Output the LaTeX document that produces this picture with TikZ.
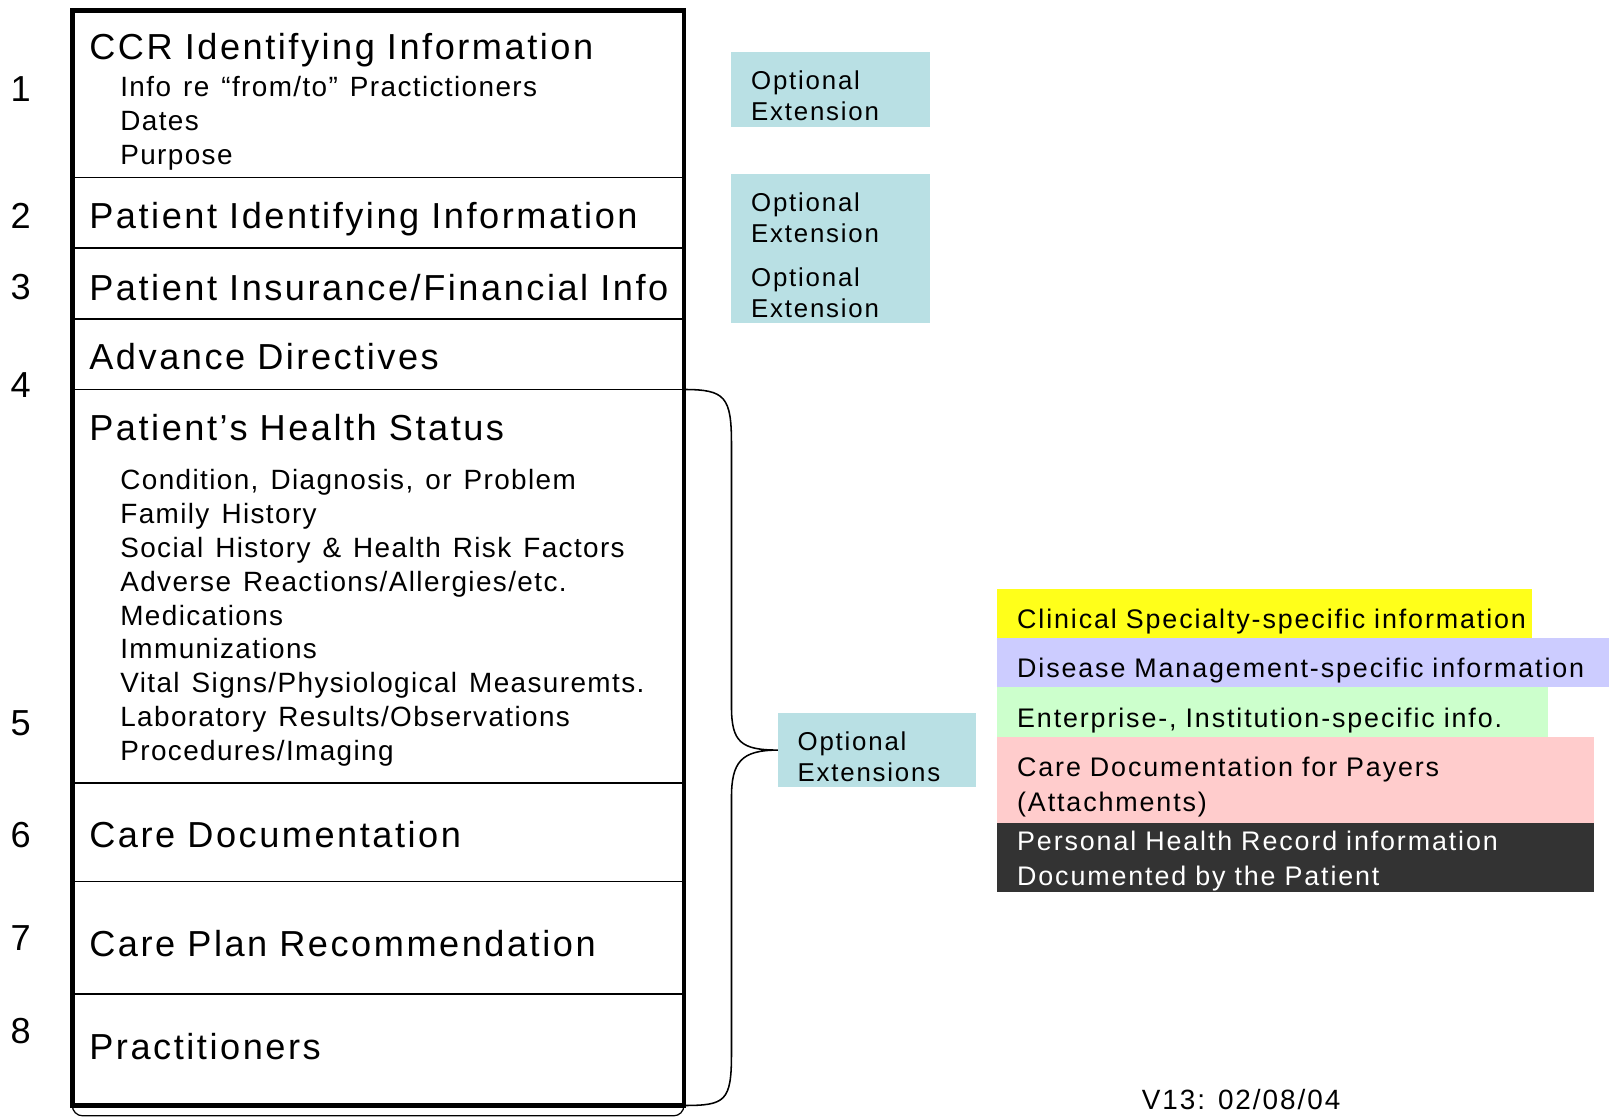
\documentclass[tikz,border=0pt]{standalone}
\usepackage{fontspec}
\setmainfont{Liberation Sans}[LetterSpace=7,Ligatures=NoCommon]
\usetikzlibrary{positioning}
\definecolor{optteal}{RGB}{185,224,228}
\definecolor{clinyellow}{RGB}{255,255,26}
\definecolor{dislav}{RGB}{204,204,255}
\definecolor{entgreen}{RGB}{204,255,204}
\definecolor{paypink}{RGB}{255,204,204}
\definecolor{phrdark}{RGB}{51,51,51}
\newcommand\subfont{\fontsize{27}{32.7}\selectfont\addfontfeature{LetterSpace=5}\leftskip=30pt\parindent=0pt}

\begin{document}
\begin{tikzpicture}[x=1pt,y=-1pt]
   \tikzstyle{lift}=[execute at begin node={\rule{0pt}{#1}}]
   \tikzstyle{sect}=[draw, line width=1.5pt, rectangle, outer sep=0pt, text width=559pt, inner xsep=16.5pt, inner ysep=0pt, align=left,
       font=\fontsize{35}{42}\selectfont]
   \tikzstyle{num}=[font=\fontsize{35}{42}\selectfont]
   \tikzstyle{opt}=[fill=optteal, anchor=north west, outer sep=0pt, text width=154pt, inner xsep=19pt, inner ysep=0pt, minimum height=73pt, align=left,
       font=\fontsize{25}{30}\selectfont, lift=31pt]
   \tikzstyle{ext}=[anchor=north west, outer sep=0pt, inner xsep=19.5pt, inner ysep=0pt, align=left,
       font=\fontsize{26}{34}\selectfont\addfontfeature{LetterSpace=7}]

\useasboundingbox (0,0) rectangle (1568,1083);

\node[sect, anchor=north west, minimum height=162pt, lift=40pt] (ccr) at (70,10) {\parindent=0pt CCR Identifying Information\par\vspace{3pt}
    {\subfont Info re “from/to” Practictioners\par Dates\par Purpose\par}};
\node[sect, minimum height=68pt, below=0pt of ccr, lift=37pt] (pid) {Patient Identifying Information};
\node[sect, minimum height=69pt, below=0pt of pid, lift=33pt] (ins) {Patient Insurance/Financial Info};
\node[sect, minimum height=68pt, below=0pt of ins, lift=30pt] (adv) {Advance Directives};
\node[sect, minimum height=381pt, below=0pt of adv, lift=33pt] (hs) {\parindent=0pt Patient’s Health Status\par\vspace{15pt}
    {\subfont Condition, Diagnosis, or Problem\par Family History\par Social History \& Health Risk Factors\par
    Adverse Reactions/Allergies/etc.\par Medications\par Immunizations\par Vital Signs/Physiological Measuremts.\par
    Laboratory Results/Observations\par Procedures/Imaging\par}};
\node[sect, minimum height=95pt, below=0pt of hs, lift=30pt] (cd) {Care Documentation};
\node[sect, minimum height=109pt, below=0pt of cd, lift=37pt] (cp) {Care Plan Recommendation};
\node[sect, minimum height=108pt, below=0pt of cp] (pr) {Practitioners\rule[-6pt]{0pt}{6pt}};

\draw[line width=4.5pt] (ccr.north west) rectangle (pr.south east);
\draw[line width=1.2pt, rounded corners=10pt] ([yshift=8pt]pr.south west) -- ([yshift=-10pt]pr.south west) -- ([yshift=-10pt]pr.south east) -- ([yshift=8pt]pr.south east);

\foreach \n/\y in {1/86,2/209,3/278,4/373,5/700,6/808,7/908,8/998}
    \node[num] (num\n) at (20,\y) {\n};

\node[opt] (optccr) at (708,50) {Optional\\Extension};
\node[opt, minimum height=72pt] (optpid) at (708,168) {Optional\\Extension};
\node[opt] (optins) at (optpid.south west) {Optional\\Extension};
\node[opt, minimum height=72pt] (opths) at (753,690) {Optional\\Extensions};

\coordinate (bt) at (708,430);
\coordinate (bm1) at (708,684);
\coordinate (bm2) at (708,772);
\coordinate (bb) at (708,1020);
\draw[line width=1.5pt] (hs.north east) .. controls +(40,0) and +(0,-46) .. (bt) -- (bm1)
    .. controls +(0,34) and +(-36,0) .. (opths.west) .. controls +(-36,0) and +(0,-34) .. (bm2) -- (bb)
    .. controls +(0,46) and +(40,0) .. (pr.south east);

\node[ext, fill=clinyellow, text width=479pt, minimum height=48pt, lift=35pt] (clin) at (965,570) {\mbox{Clinical Specialty-specific information}};
\node[ext, fill=dislav, text width=553pt, minimum height=47pt, lift=33pt] (dis) at (clin.south west) {\mbox{Disease Management-specific information}};
\node[ext, fill=entgreen, text width=494pt, minimum height=48pt, lift=35pt] (ent) at (dis.south west) {Enterprise-, Institution-specific info.};
\node[ext, fill=paypink, text width=539pt, minimum height=84pt, lift=33pt] (pay) at (ent.south west) {Care Documentation for Payers\\(Attachments)};
\node[ext, fill=phrdark, text=white, text width=539pt, minimum height=66pt, lift=25pt] (phr) at (pay.south west) {Personal Health Record information\\Documented by the Patient};

\node[anchor=west, inner sep=0pt, font=\fontsize{27}{32}\selectfont] (ver) at (1105,1064) {V13: 02/08/04};

\end{tikzpicture}
\end{document}
